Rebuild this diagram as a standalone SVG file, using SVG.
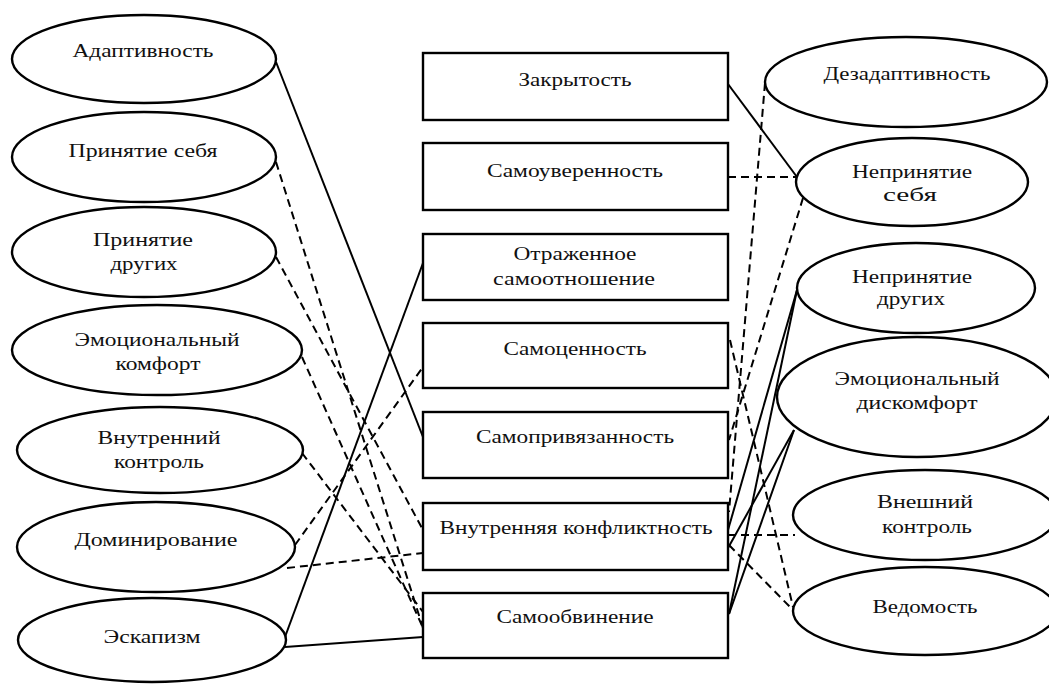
<svg xmlns="http://www.w3.org/2000/svg" width="1049" height="686" viewBox="0 0 1049 686">
<style>
.n{fill:#fff;stroke:#000;stroke-width:2.4}
.t{font-family:"Liberation Serif","Times New Roman",serif;font-size:19px;fill:#111;text-anchor:middle}
.s{stroke:#000;stroke-width:2;fill:none}
.d{stroke:#000;stroke-width:2;fill:none;stroke-dasharray:8 5}
</style>
<rect x="0" y="0" width="1049" height="686" fill="#fff"/>
<g id="connectors">
<line class="s" x1="276" y1="62" x2="423" y2="437"/>
<line class="s" x1="285" y1="637" x2="423" y2="263"/>
<line class="s" x1="285" y1="647" x2="423" y2="637"/>
<line class="s" x1="728" y1="84" x2="797" y2="177"/>
<line class="s" x1="797" y1="290" x2="728" y2="530"/>
<line class="s" x1="797" y1="290" x2="729" y2="614"/>
<line class="s" x1="794" y1="430" x2="728" y2="548"/>
<line class="s" x1="794" y1="430" x2="729" y2="614"/>
<line class="d" x1="276" y1="162" x2="423" y2="628"/>
<line class="d" x1="276" y1="257" x2="423" y2="530"/>
<line class="d" x1="302" y1="357" x2="423" y2="628"/>
<line class="d" x1="302" y1="453" x2="423" y2="612"/>
<line class="d" x1="295" y1="545" x2="423" y2="367"/>
<line class="d" x1="287" y1="568" x2="423" y2="553"/>
<line class="d" x1="728" y1="177" x2="797" y2="177"/>
<line class="d" x1="765" y1="83" x2="729" y2="512"/>
<line class="d" x1="803" y1="198" x2="729" y2="440"/>
<line class="d" x1="730" y1="340" x2="793" y2="607"/>
<line class="d" x1="728" y1="535" x2="795" y2="535"/>
<line class="d" x1="729" y1="545" x2="793" y2="610"/>
</g>
<g id="n-adaptivnost"><ellipse class="n" cx="144" cy="59" rx="132" ry="44"/><text class="t" x="143" y="57" textLength="141" lengthAdjust="spacingAndGlyphs">Адаптивность</text></g>
<g id="n-prinyatie-sebya"><ellipse class="n" cx="144" cy="157" rx="132" ry="45"/><text class="t" x="143" y="157" textLength="149" lengthAdjust="spacingAndGlyphs">Принятие себя</text></g>
<g id="n-prinyatie-drugih"><ellipse class="n" cx="144" cy="252" rx="132" ry="45"/><text class="t" x="143" y="246" textLength="100" lengthAdjust="spacingAndGlyphs">Принятие</text><text class="t" x="144" y="270" textLength="67" lengthAdjust="spacingAndGlyphs">других</text></g>
<g id="n-emo-komfort"><ellipse class="n" cx="157" cy="350" rx="145" ry="45"/><text class="t" x="157" y="346" textLength="165" lengthAdjust="spacingAndGlyphs">Эмоциональный</text><text class="t" x="158" y="370" textLength="85" lengthAdjust="spacingAndGlyphs">комфорт</text></g>
<g id="n-vnutr-kontrol"><ellipse class="n" cx="160" cy="450" rx="143" ry="43"/><text class="t" x="159" y="444" textLength="123" lengthAdjust="spacingAndGlyphs">Внутренний</text><text class="t" x="159" y="468" textLength="90" lengthAdjust="spacingAndGlyphs">контроль</text></g>
<g id="n-dominirovanie"><ellipse class="n" cx="156" cy="547" rx="139" ry="45"/><text class="t" x="156" y="546" textLength="163" lengthAdjust="spacingAndGlyphs">Доминирование</text></g>
<g id="n-eskapizm"><ellipse class="n" cx="152" cy="640" rx="134" ry="42"/><text class="t" x="152" y="643" textLength="97" lengthAdjust="spacingAndGlyphs">Эскапизм</text></g>
<g id="n-zakrytost"><rect class="n" x="423" y="53" width="305" height="67"/><text class="t" x="575" y="86" textLength="113" lengthAdjust="spacingAndGlyphs">Закрытость</text></g>
<g id="n-samouverennost"><rect class="n" x="423" y="143" width="305" height="67"/><text class="t" x="575" y="177" textLength="176" lengthAdjust="spacingAndGlyphs">Самоуверенность</text></g>
<g id="n-otrazhennoe"><rect class="n" x="423" y="234" width="305" height="66"/><text class="t" x="575" y="260" textLength="123" lengthAdjust="spacingAndGlyphs">Отраженное</text><text class="t" x="574" y="285" textLength="162" lengthAdjust="spacingAndGlyphs">самоотношение</text></g>
<g id="n-samocennost"><rect class="n" x="423" y="323" width="305" height="65"/><text class="t" x="575" y="355" textLength="143" lengthAdjust="spacingAndGlyphs">Самоценность</text></g>
<g id="n-samoprivyazannost"><rect class="n" x="423" y="412" width="305" height="66"/><text class="t" x="575" y="443" textLength="198" lengthAdjust="spacingAndGlyphs">Самопривязанность</text></g>
<g id="n-vnutr-konfliktnost"><rect class="n" x="423" y="503" width="305" height="67"/><text class="t" x="576" y="534" textLength="273" lengthAdjust="spacingAndGlyphs">Внутренняя конфликтность</text></g>
<g id="n-samoobvinenie"><rect class="n" x="423" y="593" width="305" height="65"/><text class="t" x="575" y="623" textLength="157" lengthAdjust="spacingAndGlyphs">Самообвинение</text></g>
<g id="n-dezadaptivnost"><ellipse class="n" cx="906" cy="82" rx="141" ry="45"/><text class="t" x="907" y="80" textLength="167" lengthAdjust="spacingAndGlyphs">Дезадаптивность</text></g>
<g id="n-neprinyatie-sebya"><ellipse class="n" cx="912" cy="182" rx="116" ry="44"/><text class="t" x="912" y="178" textLength="120" lengthAdjust="spacingAndGlyphs">Непринятие</text><text class="t" x="910" y="201" textLength="54" lengthAdjust="spacingAndGlyphs">себя</text></g>
<g id="n-neprinyatie-drugih"><ellipse class="n" cx="916" cy="288" rx="119" ry="45"/><text class="t" x="912" y="283" textLength="120" lengthAdjust="spacingAndGlyphs">Непринятие</text><text class="t" x="911" y="305" textLength="68" lengthAdjust="spacingAndGlyphs">других</text></g>
<g id="n-emo-diskomfort"><ellipse class="n" cx="917" cy="397" rx="140" ry="60"/><text class="t" x="917" y="385" textLength="165" lengthAdjust="spacingAndGlyphs">Эмоциональный</text><text class="t" x="917" y="409" textLength="121" lengthAdjust="spacingAndGlyphs">дискомфорт</text></g>
<g id="n-vneshniy-kontrol"><ellipse class="n" cx="925" cy="515" rx="132" ry="45"/><text class="t" x="925" y="508" textLength="96" lengthAdjust="spacingAndGlyphs">Внешний</text><text class="t" x="927" y="533" textLength="90" lengthAdjust="spacingAndGlyphs">контроль</text></g>
<g id="n-vedomost"><ellipse class="n" cx="925" cy="611" rx="132" ry="44"/><text class="t" x="925" y="613" textLength="105" lengthAdjust="spacingAndGlyphs">Ведомость</text></g>
</svg>
